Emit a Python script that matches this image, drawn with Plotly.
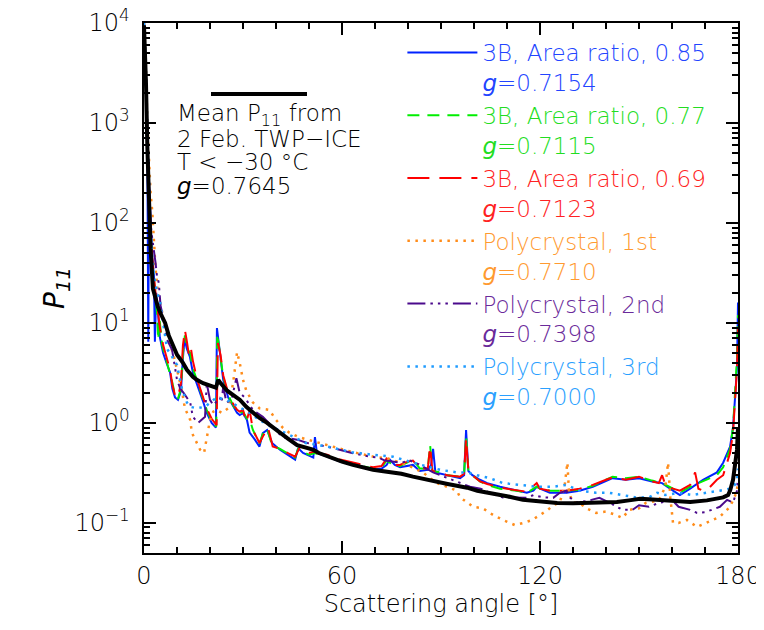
import plotly.graph_objects as go

# ---------------- data (scattering angle [deg], P11) ----------------
mean_pts = [(0,9500),(0.3,6000),(0.6,2500),(1,600),(1.5,150),(2,55),(2.7,22),(3.5,17),(4.2,14.5),(5,12.5),
            (6.4,10),(7.5,7.5),(8.8,5.8),(10,4.8),(11.8,4.0),(13,3.4),(14.8,2.9),(16,2.7),(17.9,2.5),(19.5,2.4),
            (20.9,2.3),(21.8,2.25),(22.5,2.7),(23.2,2.5),(25.2,2.1),(27,1.9),(29.1,1.7),(31,1.45),(33,1.26),(35,1.12),
            (37.3,1.0),(39,0.9),(41.2,0.79),(43.5,0.7),(46.4,0.6),(48,0.58),(51.2,0.54),(53,0.5),(56.4,0.45),(60,0.41),
            (63.3,0.38),(66,0.36),(69.4,0.34),(72,0.33),(75.5,0.32),(78,0.31),(81.5,0.29),(84,0.28),(86.7,0.27),(89.7,0.257),
            (92,0.245),(94.8,0.235),(97.9,0.225),(101,0.21),(104.8,0.2),(110,0.185),(114.8,0.17),(120,0.163),(125.2,0.158),(130,0.157),
            (135.2,0.158),(140,0.16),(143.3,0.162),(147,0.168),(150.3,0.174),(153,0.172),(155.5,0.17),(160.3,0.163),(165.5,0.162),(170.6,0.168),
            (173,0.172),(175.5,0.18),(177,0.19),(177.6,0.21),(178.5,0.27),(179.2,0.38),(179.7,0.54),(180,0.9)]

b085_pts = [(0,10000),(0.5,4000),(1.0,700),(1.3,6.5),(1.5,250),(2.0,90),(2.5,45),(3.0,30),(3.3,6.5),(3.7,20),
            (4.0,14),(4.3,12),(4.8,7.2),(5.8,5),(6.8,4),(7.9,3.2),(8.6,2.2),(9.4,1.8),(10.3,1.7),(11.2,2.1),
            (11.8,4.5),(12.3,7.0),(13,5.5),(13.9,4.6),(14.8,3.2),(16,2.5),(17,2.0),(18,1.6),(19,1.26),(20.5,1.0),
            (21.5,0.92),(21.8,0.9),(22.1,8.9),(22.6,6.5),(23,5.8),(24,2.7),(25.5,1.8),(27,1.45),(28.2,1.26),(29,1.2),
            (30,1.25),(31.2,1.07),(32,0.8),(33.6,0.68),(35,0.58),(36,0.79),(37.3,0.85),(38.8,0.63),(41.2,0.54),(43.6,0.48),
            (45.8,0.43),(46.7,0.56),(48.2,0.5),(50,0.47),(51.3,0.45),(51.8,0.72),(52.4,0.5),(55.5,0.46),(59.4,0.41),(64.5,0.38),
            (69.4,0.34),(72,0.35),(73.5,0.38),(74.5,0.43),(76,0.38),(77.6,0.36),(79.7,0.37),(81.5,0.38),(83.6,0.33),(86,0.34),
            (87,0.38),(87.6,0.55),(88.3,0.32),(91.8,0.3),(95.8,0.28),(97,0.3),(97.6,0.85),(98.3,0.33),(99.5,0.3),(101.8,0.27),
            (104,0.25),(107.9,0.23),(113,0.21),(116,0.2),(118,0.21),(119,0.23),(120,0.22),(123,0.2),(128,0.2),(132,0.21),
            (136,0.23),(140,0.26),(142,0.28),(146,0.27),(150,0.28),(154,0.26),(157,0.25),(160.3,0.21),(162.4,0.19),(165.5,0.22),
            (169.4,0.27),(173.6,0.32),(175.5,0.4),(177.6,0.58),(178.5,0.9),(179.2,2.0),(179.7,3.6),(180,16)]

b077_pts = [(0,10000),(0.5,3500),(1,650),(1.5,200),(2,80),(2.5,40),(3,25),(3.5,18),(4,12),(4.3,6.8),
            (4.7,11),(5.5,6),(6.5,4.5),(7.5,3.6),(8.5,2.6),(9.4,1.9),(10.3,1.75),(11.2,2.2),(11.8,5),(12.4,7.5),
            (13,5.5),(14,5),(14.8,3.5),(16,2.7),(17,2.1),(18,1.7),(19,1.35),(20.5,1.05),(21.5,0.95),(21.9,0.92),
            (22.2,7.8),(22.6,6.2),(23,5.5),(24,2.9),(25.5,1.9),(27,1.5),(28.2,1.3),(29,1.25),(30,1.3),(31.2,1.1),
            (32,1.1),(33,0.85),(35,0.62),(36,0.78),(37.3,0.88),(38.8,0.6),(41.2,0.55),(43.6,0.5),(45.8,0.45),(46.7,0.55),
            (48.2,0.52),(50,0.48),(51.8,0.5),(52.4,0.49),(55.5,0.47),(59.4,0.42),(64.5,0.38),(69.4,0.35),(72,0.36),(73.5,0.42),
            (74.5,0.4),(76,0.37),(77.6,0.37),(79.7,0.4),(81.5,0.43),(83.6,0.35),(86,0.35),(86.7,0.6),(87.4,0.33),(89.7,0.32),
            (91.8,0.3),(95.8,0.29),(97,0.31),(97.6,0.75),(98.3,0.33),(99.5,0.3),(101.8,0.26),(104,0.24),(107.9,0.22),(113,0.21),
            (116,0.2),(119,0.23),(120,0.22),(123,0.21),(128,0.21),(132,0.215),(136,0.235),(140,0.27),(142,0.29),(146,0.28),
            (150,0.29),(154,0.265),(157,0.25),(160.3,0.22),(162.4,0.2),(165.5,0.23),(169.4,0.26),(173.6,0.3),(175.5,0.36),(177.6,0.55),
            (178.5,0.9),(179.2,2.5),(179.7,4.5),(180,12)]

b069_pts = [(0,10000),(0.5,3800),(1,700),(1.5,220),(2,90),(2.5,45),(3,28),(3.5,20),(4,15),(4.8,9),
            (5.8,6),(6.8,4.5),(7.9,3.4),(8.6,2.4),(9.4,1.9),(10.3,1.8),(11.2,2.5),(11.8,6),(12.4,8.5),(13,6.5),
            (13.6,4.8),(14.2,5.6),(14.8,4.2),(16,2.8),(17,2.2),(18,1.8),(19,1.4),(20.5,1.1),(21.5,0.98),(22,0.95),
            (22.4,6.3),(22.8,5.5),(23.2,4.8),(24,3.0),(25.5,2.0),(27,1.55),(28.2,1.35),(29,1.3),(30,1.35),(31,1.02),
            (32,1.35),(33,0.85),(35,0.63),(36.2,0.75),(37.6,0.9),(39,0.58),(41.2,0.55),(43.6,0.5),(45.8,0.46),(47.3,0.58),
            (48.2,0.53),(50,0.5),(51.8,0.52),(52.4,0.5),(55.5,0.48),(59.4,0.43),(64.5,0.39),(69.4,0.36),(72,0.37),(73.5,0.44),
            (74.5,0.41),(76,0.38),(77.6,0.38),(79.7,0.41),(81.5,0.42),(83.6,0.35),(86,0.35),(86.7,0.58),(87.4,0.33),(89.7,0.32),
            (91.8,0.3),(95.8,0.29),(97,0.31),(97.6,0.7),(98.3,0.33),(99.5,0.3),(101.8,0.26),(104,0.245),(107.9,0.225),(113,0.21),
            (116,0.205),(119,0.25),(120,0.22),(123,0.21),(128,0.21),(132,0.22),(136,0.24),(140,0.27),(142,0.285),(146,0.27),
            (150,0.29),(154,0.26),(156,0.25),(157,0.3),(158,0.24),(160.3,0.22),(162.4,0.21),(165.5,0.24),(167,0.32),(168,0.22),
            (169.4,0.21),(171,0.22),(173.6,0.27),(175.5,0.3),(177.6,0.5),(178.5,0.8),(179.2,2.0),(179.7,3.5),(180,9)]

poly1_pts = [(0,10000),(0.5,4500),(1,1000),(1.5,400),(2,200),(2.5,130),(3,60),(3.5,35),(4.2,20),(5,15),
             (6.4,9),(7.5,6.5),(8.8,5),(10,3.5),(11.5,2.1),(12.4,1.4),(14,1.07),(14.5,0.8),(16,0.63),(17,0.54),
             (18.2,0.5),(19,0.68),(20,1.07),(21,1.3),(22,1.35),(23.6,1.26),(25.5,1.4),(27,2.5),(28.2,5.1),(29,4.0),
             (30,2.7),(31,2.1),(33,1.6),(35,1.4),(38,1.35),(40,1.07),(42,0.9),(44,0.8),(47,0.72),(51,0.66),
             (55.5,0.6),(59,0.55),(63.3,0.51),(69.4,0.46),(74,0.44),(79.7,0.38),(84.5,0.32),(86.7,0.28),(88.8,0.25),(91.8,0.23),
             (94.8,0.21),(95.8,0.18),(99.7,0.145),(102.7,0.14),(105.8,0.12),(108.8,0.107),(112.4,0.095),(115,0.1),(117.6,0.107),(120,0.12),
             (122.4,0.135),(124,0.15),(126,0.16),(127.5,0.24),(128.3,0.4),(128.8,0.2),(130,0.16),(132,0.158),(134,0.14),(137,0.126),
             (140,0.13),(143,0.12),(145,0.112),(147,0.135),(150,0.14),(152,0.158),(156,0.168),(158,0.23),(158.8,0.4),(159.5,0.18),
             (160.3,0.1),(162,0.1),(164.5,0.107),(167.6,0.091),(170.6,0.1),(174.5,0.115),(177.6,0.145),(178.5,0.17),(179.5,0.2),(180,0.25)]

poly2_pts = [(0,10000),(0.5,4000),(1,900),(1.5,250),(2,100),(2.5,70),(3,55),(3.5,40),(3.9,30),(4.5,25),
             (5,15),(5.5,12.6),(6.2,9),(7,6.8),(8.5,5.4),(10,2.7),(11,2.2),(12,2.0),(14,1.6),(14.8,1.15),
             (16.4,1.0),(18.5,1.15),(19,2.5),(20,1.7),(21,1.5),(23,1.8),(23.5,1.6),(24,2.3),(25,1.6),(26.5,1.7),
             (28,2.8),(29,2.0),(30.5,1.8),(33,1.35),(36,1.15),(39,0.9),(42,0.72),(46.4,0.68),(49.5,0.63),(55.5,0.58),
             (63,0.5),(68.5,0.46),(71,0.45),(73,0.42),(75.5,0.41),(78,0.4),(80.6,0.42),(83,0.39),(87.6,0.32),(91,0.29),
             (94.8,0.26),(98.8,0.23),(102,0.22),(104.8,0.2),(108.8,0.18),(112,0.18),(116,0.178),(118,0.19),(121,0.18),(124,0.178),
             (126,0.2),(128,0.21),(129,0.18),(131,0.16),(134,0.165),(138,0.178),(141,0.16),(145,0.135),(148,0.135),(150,0.15),
             (153,0.145),(156,0.158),(160,0.17),(162,0.145),(165.5,0.135),(167.6,0.126),(170,0.128),(172,0.135),(174.5,0.145),(176.7,0.17),
             (178.5,0.16),(179.7,0.21),(180,0.3)]

poly3_pts = [(0,10000),(0.5,4000),(1,900),(1.5,250),(2,90),(2.5,45),(3,30),(4,20),(4.8,17),(6,9),
             (7,5.5),(8.5,4.6),(10,3.8),(11.5,2.2),(13,1.6),(14,1.45),(16,1.4),(18.5,1.45),(20,1.6),(22,1.8),
             (25,1.7),(28,1.5),(32,1.26),(35,1.07),(39,0.9),(43,0.79),(49,0.63),(55.5,0.58),(63,0.51),(69.4,0.48),
             (75.5,0.46),(81.5,0.4),(86.7,0.36),(89.7,0.34),(94.8,0.32),(97.9,0.32),(101,0.3),(104.8,0.28),(108.8,0.25),(114,0.24),
             (119,0.23),(124,0.23),(128,0.24),(132,0.21),(137,0.2),(141,0.2),(145,0.19),(149,0.18),(153,0.18),(155.5,0.2),
             (158,0.19),(162,0.2),(166,0.19),(170.6,0.2),(174.5,0.21),(177.6,0.22),(179,0.24),(179.7,0.27),(180,0.35)]

names = ["3B, Area ratio, 0.85", "3B, Area ratio, 0.77", "3B, Area ratio, 0.69",
         "Polycrystal, 1st", "Polycrystal, 2nd", "Polycrystal, 3rd"]
g_values = ["0.7154", "0.7115", "0.7123", "0.7710", "0.7398", "0.7000"]
mean_label = ["Mean P<sub>11</sub> from", "2 Feb. TWP\u2212ICE", "T < \u221230 \u00b0C", "<i>g</i>=0.7645"]
y_tickvals = [0.1, 1, 10, 100, 1000, 10000]
y_ticktext = ["10<sup>\u22121</sup>\u00a0", "10<sup>0</sup>\u00a0", "10<sup>1</sup>\u00a0",
              "10<sup>2</sup>\u00a0", "10<sup>3</sup>\u00a0", "10<sup>4</sup>\u00a0"]
x_tickvals = [0, 60, 120, 180]

# ---------------- styles ----------------
series = [b085_pts, b077_pts, b069_pts, poly1_pts, poly2_pts, poly3_pts]
line_colors = ["#0022FF", "#00EE00", "#FF0000", "#FF8C1A", "#4B0A8C", "#1E9BFF"]
text_colors = ["#2244FF", "#22DD22", "#FF2222", "#FF9A30", "#6A2A9A", "#2AA0FF"]
dashes = ["solid", "12px,8px", "22px,10px", "2.5px,5.5px", "18px,5px,2.5px,5px,2.5px,5px,2.5px,5px", "2.5px,5.5px"]
widths = [2, 2, 2, 2.5, 2, 2.5]

FONT = dict(family="DejaVu Sans", weight=200)

fig = go.Figure()
for i in range(6):
    th = [p[0] for p in series[i]]
    pv = [p[1] for p in series[i]]
    label = (f"<span style='color:{text_colors[i]}'>{names[i]}<br>"
             f"<i>g</i>={g_values[i]}</span>")
    fig.add_trace(go.Scatter(x=th, y=pv, mode="lines", name=label, legendrank=i + 1, legendgroup=f"g{i}",
                             line=dict(color=line_colors[i], width=widths[i], dash=dashes[i])))

fig.add_trace(go.Scatter(x=[p[0] for p in mean_pts], y=[p[1] for p in mean_pts], mode="lines",
                         name="Mean", showlegend=False, line=dict(color="black", width=4)))

minor_y = [k * 10 ** n for n in range(-2, 4) for k in range(2, 10) if 0.05 <= k * 10 ** n <= 10000]

axis_common = dict(showline=True, linecolor="black", linewidth=1.5, mirror="ticks", ticks="inside",
                   tickcolor="black", tickwidth=1.5, ticklen=12, showgrid=False, zeroline=False, automargin=False,
                   ticklabeloverflow="allow", tickfont=dict(size=24, color="black", **FONT))

fig.update_xaxes(range=[0, 180], tickmode="array", tickvals=x_tickvals,
                 minor=dict(dtick=10, tick0=0, ticks="inside", ticklen=6, tickcolor="black", tickwidth=1.5),
                 title=dict(text="Scattering angle [\u00b0]", font=dict(size=24, color="black", **FONT), standoff=6),
                 **axis_common)
fig.update_yaxes(type="log", range=[-1.30103, 4], tickmode="array", tickvals=y_tickvals, ticktext=y_ticktext,
                 minor=dict(tickmode="array", tickvals=minor_y, ticks="inside", ticklen=6, tickcolor="black", tickwidth=1.5),
                 title=dict(text="<i>P</i><sub><i>11</i></sub>", font=dict(size=28, color="black", family="DejaVu Sans"),
                            standoff=2),
                 **axis_common)

# legend key for the mean curve (decoration above the text block)
fig.add_shape(type="line", xref="paper", yref="paper", x0=0.1128, x1=0.2744, y0=0.866, y1=0.866,
              line=dict(color="black", width=4))
for k, txt in enumerate(mean_label):
    fig.add_annotation(xref="paper", yref="paper", x=0.052, y=0.826 - k * 0.0445, xanchor="left", yanchor="middle",
                       text=txt, showarrow=False, font=dict(size=23, color="black", **FONT))

# page body adds an 8px offset, so the figure is 8px smaller than the window
fig.update_layout(
    width=756, height=622, margin=dict(l=136, r=26, t=15, b=77),
    plot_bgcolor="white", paper_bgcolor="white",
    font=dict(size=23, color="black", **FONT),
    showlegend=True,
    legend=dict(x=0.435, y=0.985, xanchor="left", yanchor="top", bgcolor="rgba(0,0,0,0)",
                itemwidth=70, valign="top", font=dict(size=23, **FONT), tracegroupgap=2,
                traceorder="normal"),
)

fig.write_html("out.html")
